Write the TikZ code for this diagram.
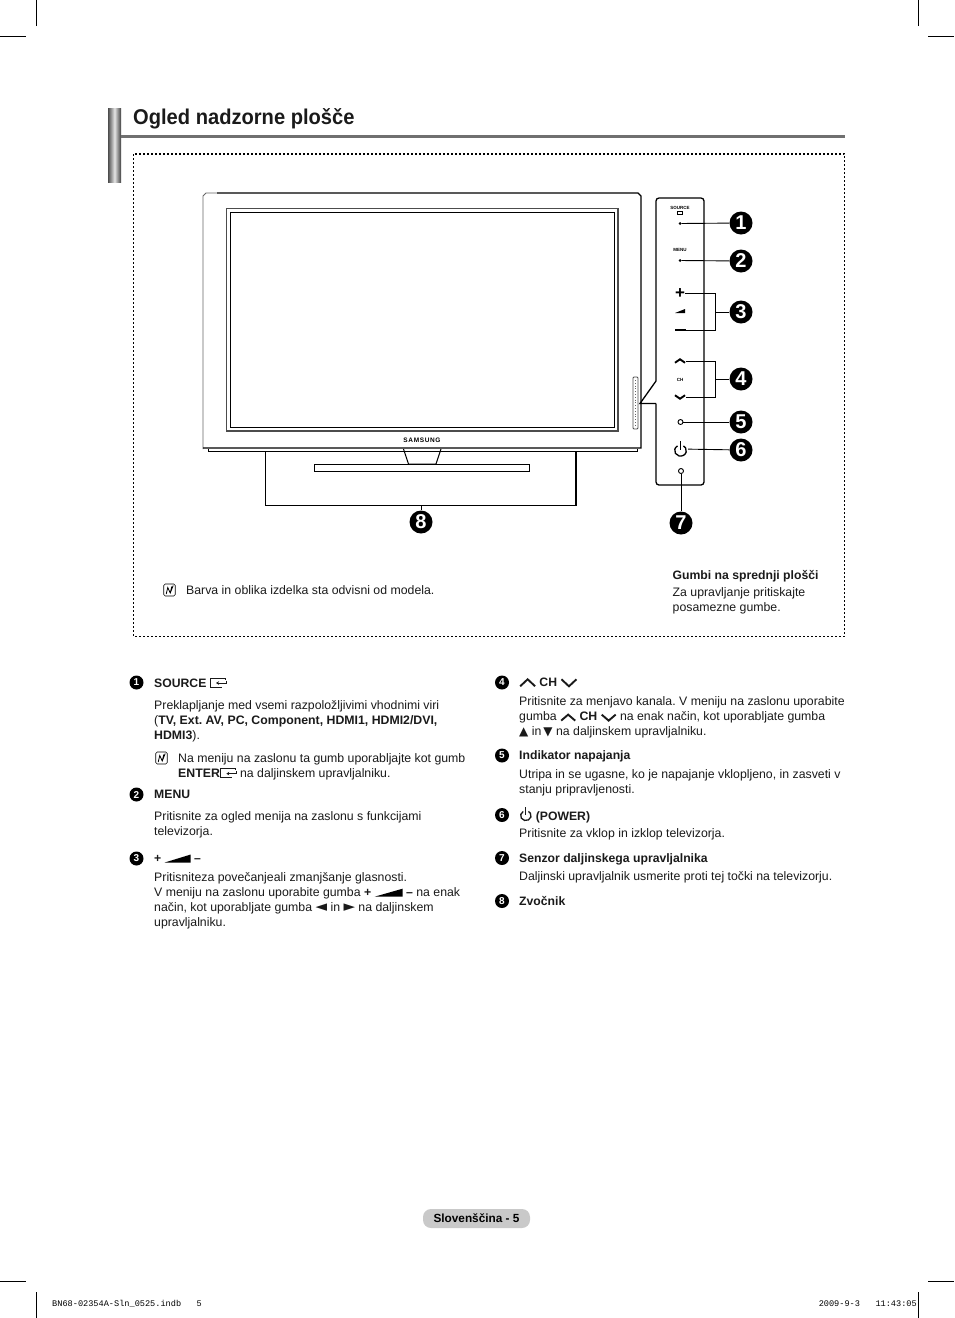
\documentclass[tikz,border=0pt]{standalone}
\usepackage{fontspec}
\setmainfont{Liberation Sans}
\newfontfamily\symfont{DejaVu Sans}
\newfontfamily\slugfont{Liberation Mono}
\newfontfamily\titlefont[FakeStretch=0.94]{Liberation Sans}
\usepackage{tikz}
\usetikzlibrary{positioning,calc,arrows.meta}
\definecolor{rulegrey}{HTML}{707070}
\definecolor{pillgrey}{HTML}{C9C9C9}
\definecolor{inkblack}{HTML}{1A1A1A}
% small inline symbols used inside the running text
\newcommand{\volwedge}[2]{\tikz[baseline=0pt,x=1pt,y=1pt]\fill[black] (0,0) -- (#1,0) -- (#1,#2) -- cycle;}
\newcommand{\chevup}[2]{\tikz[baseline=0pt,x=1pt,y=1pt]\draw[line width=1.9pt] (0,0) -- (#1/2,#2) -- (#1,0);}
\newcommand{\chevdown}[2]{\tikz[baseline=0pt,x=1pt,y=1pt]\draw[line width=1.9pt] (0,#2) -- (#1/2,0) -- (#1,#2);}
\newcommand{\powersym}[1]{\tikz[baseline=0pt,x=1pt,y=1pt,scale=#1]{\draw[line width=1.3pt] (3,7.6) arc (120:420:4.2 and 3.9);\draw[line width=1.3pt] (5,11) -- (5,4.4);}}
\newcommand{\entersym}[1]{\tikz[baseline=0pt,x=1pt,y=1pt]{\draw[line width=#1] (15,7.5) -- (15,9) -- (0,9) -- (0,0) -- (12,0);\draw[line width=#1,-{Stealth[length=3pt,width=3.5pt]}] (16,6.5) -- (16,4) -- (6,4);}}
\newcommand{\notesym}{\tikz[baseline=0pt,x=1pt,y=1pt]{\draw[line width=.6pt,rounded corners=1.5pt] (0,0) rectangle (11.5,12);\draw[line width=.8pt] (2.5,2) -- (4,8.5) -- (6.5,3) -- (9.5,10.5) (6.5,3) -- (8,9.5);}}
\begin{document}
\frenchspacing
\begin{tikzpicture}[
  x=1pt,y=-1pt,
  body/.style    ={anchor=north west,inner sep=0pt,align=left,text=inkblack,font=\fontsize{12.3}{15}\selectfont},
  head/.style    ={anchor=west,inner sep=0pt,text=inkblack,font=\fontsize{12.2}{15}\selectfont\bfseries},
  bigbadge/.style={circle,fill=black,text=white,inner sep=0pt,minimum size=23pt,font=\fontsize{20}{20}\selectfont\bfseries},
  badge/.style   ={circle,fill=black,text=white,inner sep=0pt,minimum size=14pt,font=\fontsize{10}{10}\selectfont\bfseries},
  crop/.style    ={line width=.8pt,black},
  outline/.style ={line width=1pt,black},
  lead/.style    ={line width=.9pt,black},
  btn/.style     ={inner sep=0pt,text=black},
  tiny/.style    ={inner sep=0pt,font=\fontsize{4.5}{5}\selectfont\bfseries}
]
\useasboundingbox (0,0) rectangle (954,1318);
% crop marks
\coordinate (ctl) at (36.5,26);   \coordinate (ctr) at (918,26);
\coordinate (cbl) at (36.5,1292); \coordinate (cbr) at (918,1292);
\draw[crop] (ctl) -- (36.5,0);   \draw[crop] (0,36.5) -- (26,36.5);
\draw[crop] (ctr) -- (918,0);    \draw[crop] (928,36.5) -- (954,36.5);
\draw[crop] (cbl) -- (36.5,1318); \draw[crop] (0,1281) -- (26,1281);
\draw[crop] (cbr) -- (918,1318); \draw[crop] (928,1281) -- (954,1281);
% page title
\shade[left color=black!70,right color=black!75,middle color=black!10] (108,108) rectangle (121,182);
\fill[rulegrey] (121,135) rectangle (845,138);
\node[anchor=west,inner sep=0pt,text=inkblack,font=\titlefont\fontsize{21.4}{24}\selectfont\bfseries] (title) at (133,118.5) {Ogled nadzorne plošče};
\draw[line width=1.2pt,dash pattern=on 2pt off 2pt] (133.5,154) rectangle (844.5,636.5);
% television
\draw[line width=.9pt,black!60] (203,449) -- (203,196) -- (206,193) -- (217,193);
\draw[line width=1.4pt] (217,193) -- (638,193) -- (641,196) -- (641,448) -- (203,448);
\draw[outline] (208,449) -- (208,451) -- (637,451) -- (637,449);
\draw[line width=1.2pt,black!70] (226.5,208.5) rectangle (618,431);
\draw[line width=1pt] (230,212) rectangle (614,427);
\draw[line width=.9pt,black!70,rounded corners=1pt] (633,377) rectangle (638,429);
\draw[line width=.8pt,black!60,dotted] (635.5,380) -- (635.5,426);
\node[inner sep=0pt,font=\addfontfeature{LetterSpace=10}\fontsize{6.5}{7}\selectfont\bfseries] (logo) at (422,440) {SAMSUNG};
% stand and speaker
\draw[line width=1pt] (403.5,449) -- (408.5,464) -- (436,464) -- (441,449);
\draw[line width=1.2pt] (265.5,451) -- (265.5,505.5) -- (576,505.5) -- (576,451);
\draw[line width=1pt] (314.5,464.5) rectangle (529.5,471.5);
% control strip beside the set
\draw[line width=1.3pt,rounded corners=3pt] (656,381) -- (656,198) -- (704,198) -- (704,485) -- (656,485) -- (656,403.5);
\draw[line width=1.3pt] (656,381) -- (640,403.5) -- (656,403.5);
\node[tiny] (srctxt) at (680,207.5) {SOURCE};
\node[draw,line width=.4pt,inner sep=0pt,minimum width=5pt,minimum height=3pt] (srcicon) at (680,212.5) {};
\node[tiny] (menutxt) at (680,250) {MENU};
\node[circle,fill=black,inner sep=0pt,minimum size=3pt] (dot1) at (680,223.5) {};
\node[circle,fill=black,inner sep=0pt,minimum size=3pt] (dot2) at (680,260.5) {};
\node[btn,font=\fontsize{17}{17}\selectfont\bfseries] (plus) at (680,293.5) {+};
\node[btn] (vol) at (680,311) {\volwedge{10}{4}};
\node[fill=black,inner sep=0pt,minimum width=11pt,minimum height=1.6pt] (minus) at (680,330) {};
\node[btn] (chup) at (680,361) {\chevup{10}{3.5}};
\node[tiny] (chtxt) at (680,379.5) {CH};
\node[btn] (chdn) at (680,397) {\chevdown{10}{3.5}};
\node[circle,draw=black,line width=.9pt,inner sep=0pt,minimum size=5pt] (led) at (680.5,422) {};
\node[btn] (pwr) at (680.5,449) {\powersym{1.4}};
\node[circle,draw=black,line width=.9pt,inner sep=0pt,minimum size=5pt] (ir) at (681,471) {};
% numbered call-outs
\node[bigbadge] (b1) at (741,223) {1};
\node[bigbadge] (b2) at (741,261) {2};
\node[bigbadge] (b3) at (741,312) {3};
\node[bigbadge] (b4) at (741,379) {4};
\node[bigbadge] (b5) at (741,422) {5};
\node[bigbadge] (b6) at (741,450) {6};
\node[bigbadge] (b7) at (681,523) {7};
\node[bigbadge] (b8) at (421,522) {8};
\coordinate (brk3) at (715,312);
\coordinate (brk4) at (715,379);
\coordinate (spk) at (421,505.5);
\draw[lead] (dot1) -- (b1);
\draw[lead] (dot2) -- (b2);
\draw[lead] (plus.east) -| (brk3);
\draw[lead] (minus.east) -| (brk3);
\draw[lead] (brk3) -- (b3);
\draw[lead] (chup.east) -| (brk4);
\draw[lead] (chdn.east) -| (brk4);
\draw[lead] (brk4) -- (b4);
\draw[lead] (led) -- (b5);
\draw[lead] (pwr) -- (b6);
\draw[lead] (ir) -- (b7);
\draw[lead] (spk) -- (b8);
% notes inside the dotted frame
\node[inner sep=0pt] (note0) at (169.5,590) {\notesym};
\node[head,font=\fontsize{12.3}{15}\selectfont] (colour) at (186,590) {Barva in oblika izdelka sta odvisni od modela.};
\node[head] (frontttl) at (672.5,576) {Gumbi na sprednji plošči};
\node[body] (fronttxt) at (672.5,587) {Za upravljanje pritiskajte\\posamezne gumbe.};
% left column
\node[badge] (n1) at (136.5,682.5) {1};
\node[head] (h1) at (154,682.5) {SOURCE \entersym{.5pt}};
\node[body] (t1) at (154,700.5) {Preklapljanje med vsemi razpoložljivimi vhodnimi viri\\(\textbf{TV, Ext. AV, PC, Component, HDMI1, HDMI2/DVI,}\\\textbf{HDMI3}).};
\node[inner sep=0pt] (note1) at (161.5,758) {\notesym};
\node[body] (t1b) at (178,753.5) {Na meniju na zaslonu ta gumb uporabljajte kot gumb\\\textbf{ENTER}\entersym{.8pt} na daljinskem upravljalniku.};
\node[badge] (n2) at (136.5,794.5) {2};
\node[head] (h2) at (154,794.5) {MENU};
\node[body] (t2) at (154,811.5) {Pritisnite za ogled menija na zaslonu s funkcijami\\televizorja.};
\node[badge] (n3) at (136.5,858.5) {3};
\node[head] (h3) at (154,858.5) {+ \volwedge{26}{8} –};
\node[body] (t3) at (154,872.5) {Pritisniteza povečanjeali zmanjšanje glasnosti.\\V meniju na zaslonu uporabite gumba \textbf{+ \volwedge{28}{8} –} na enak\\način, kot uporabljate gumba {\symfont\fontsize{15}{15}\selectfont ◄} in {\symfont\fontsize{15}{15}\selectfont ►} na daljinskem\\upravljalniku.};
% right column
\node[badge] (n4) at (502,682.5) {4};
\node[head] (h4) at (519,682.5) {\chevup{15}{7} CH \chevdown{15}{7}};
\node[body] (t4) at (519,696.5) {Pritisnite za menjavo kanala. V meniju na zaslonu uporabite\\gumba \chevup{14}{6} \textbf{CH} \chevdown{14}{6} na enak način, kot uporabljate gumba\\{\symfont\fontsize{12}{15}\selectfont ▲} in\,{\symfont\fontsize{12}{15}\selectfont ▼} na daljinskem upravljalniku.};
\node[badge] (n5) at (502,755.5) {5};
\node[head] (h5) at (519,756.5) {Indikator napajanja};
\node[body] (t5) at (519,769.5) {Utripa in se ugasne, ko je napajanje vklopljeno, in zasveti v\\stanju pripravljenosti.};
\node[badge] (n6) at (502,815) {6};
\node[head] (h6) at (519,815) {\powersym{1.25} (POWER)};
\node[body] (t6) at (519,828.5) {Pritisnite za vklop in izklop televizorja.};
\node[badge] (n7) at (502,858) {7};
\node[head] (h7) at (519,859) {Senzor daljinskega upravljalnika};
\node[body] (t7) at (519,871.5) {Daljinski upravljalnik usmerite proti tej točki na televizorju.};
\node[badge] (n8) at (502,901) {8};
\node[head] (h8) at (519,901) {Zvočnik};
% folio and print slug
\node[rounded corners=8pt,fill=pillgrey,minimum width=107pt,minimum height=19pt,inner sep=0pt,font=\fontsize{11.8}{12}\selectfont\bfseries] (folio) at (476.5,1218.5) {Slovenščina - 5};
\node[anchor=west,inner sep=0pt,font=\slugfont\fontsize{8.6}{10}\selectfont] (slug1) at (52,1304) {BN68-02354A-Sln\_0525.indb\ \ \ 5};
\node[anchor=east,inner sep=0pt,font=\slugfont\fontsize{8.6}{10}\selectfont] (slug2) at (917,1304) {2009-9-3\ \ \ 11:43:05};
\end{tikzpicture}
\end{document}
